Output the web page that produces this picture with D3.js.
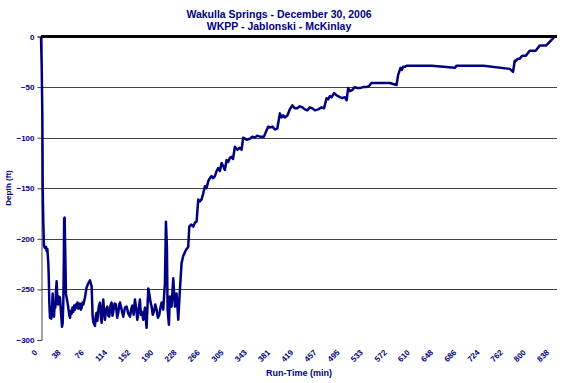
<!DOCTYPE html>
<html><head><meta charset="utf-8">
<script src="https://cdn.jsdelivr.net/npm/d3@7"></script>
<style>
body{margin:0;background:#fff}
svg{display:block}
text{font-family:"Liberation Sans",Arial,sans-serif;font-weight:bold;fill:#000080}
</style>
</head><body><svg width="562" height="383"></svg>
<script>
const titleLines = ["Wakulla Springs - December 30, 2006", "WKPP - Jablonski - McKinlay"];
const xTitle = "Run-Time (min)";
const yTitle = "Depth (ft)";
const xTickLabels = [0,38,76,114,152,190,228,266,305,343,381,419,457,495,533,572,610,648,686,724,762,800,838];
const yTicks = [0,-50,-100,-150,-200,-250,-300];
const runTime = [0,1.2,1.8,2.2,2.5,2.7,3.2,3.8,4.9,6.5,8.2,9.3,10.4,12.0,12.8,13.6,14.7,15.8,16.9,18.0,19.1,20.2,21.3,22.4,23.5,24.5,25.6,26.7,27.8,28.9,30.0,31.1,32.2,33.3,34.4,35.5,36.6,37.3,37.9,38.7,39.8,40.9,42.0,43.1,44.7,46.4,47.5,49.0,50.2,51.5,52.9,54.3,55.7,57.0,58.4,59.8,61.1,62.5,63.8,65.2,66.6,68.0,69.3,72.0,74.7,77.5,80.2,82.9,84.6,86.0,88.4,89.8,91.1,92.3,93.5,95.0,96.6,98.0,99.3,100.7,102.0,103.4,104.7,106.5,108.6,110.2,111.8,113.7,115.6,117.0,118.4,120.5,122.7,124.7,126.6,128.0,129.3,132.0,134.7,137.5,140.2,143.0,145.7,147.6,149.5,151.7,153.8,155.8,157.7,160.0,162.0,163.5,165.0,167.5,170.2,172.9,175.7,177.3,179.2,181.1,183.0,184.9,187.1,189.3,191.5,193.7,195.6,197.5,200.2,202.9,204.6,206.2,207.3,209.5,211.1,213.8,216.6,219.3,222.0,224.8,227.5,230.2,232.9,237.3,241.1,242.8,246.0,249.3,252.0,254.8,257.5,260.0,263.0,265.7,268.4,271.1,273.9,276.6,279.3,282.0,284.8,287.5,290.2,293.0,295.7,298.4,301.1,303.9,306.5,309.3,312.1,314.5,317.5,321.5,325.7,328.4,331.1,336.5,342.1,346.0,350.2,354.0,358.4,365.0,372.1,374.8,379.0,383.0,387.0,391.2,393.9,396.5,399.3,403.5,407.5,411.5,415.7,419.5,423.9,428.0,432.0,436.0,440.3,444.5,448.4,454.0,459.4,463.5,467.6,470.3,473.0,475.7,480.0,484.0,486.5,489.4,493.5,497.5,500.5,503.0,505.7,509.5,513.9,518.0,522.1,527.5,533.0,537.0,541.2,543.9,557.0,571.2,582.2,584.8,586.5,588.7,590.8,593.0,595.7,598.5,601.2,640.0,677.6,680.3,683.0,725.0,767.6,773.0,775.8,777.4,781.0,784.0,786.5,788.4,794.0,800.3,803.1,810.0,816.7,819.5,827.0,835.8,841.2,844.0];
const depth = [0,-31,-60,-78,-110,-142,-165,-184,-207,-209,-208,-212,-210,-224,-240,-263,-278,-272,-279,-268,-254,-270,-277,-265,-268,-252,-242,-258,-265,-257,-263,-258,-268,-278,-287,-283,-262,-230,-180,-179,-215,-255,-258,-262,-268,-276,-278,-271,-274,-268,-272,-266,-270,-265,-268,-263,-269,-266,-264,-270,-268,-263,-265,-258,-248,-244,-241,-247,-277,-283,-286,-276,-273,-281,-272,-266,-263,-277,-283,-270,-260,-272,-280,-270,-267,-276,-277,-266,-263,-276,-272,-264,-265,-278,-273,-266,-263,-270,-277,-268,-267,-274,-277,-270,-266,-275,-260,-268,-280,-270,-260,-275,-272,-280,-268,-288,-249,-254,-262,-267,-275,-272,-265,-270,-278,-275,-268,-263,-270,-244,-183,-208,-270,-285,-257,-267,-239,-267,-254,-280,-250,-224,-217,-211,-208,-188,-186,-188,-184,-183,-161,-163,-161,-155,-148,-150,-143,-140,-138,-140,-138,-133,-130,-133,-125,-128,-132,-122,-124,-120,-119,-121,-109,-112,-110,-112,-100,-102,-101,-99,-100,-98,-99,-99,-89,-90,-89,-92,-91,-76,-80,-78,-80,-78,-72,-68,-71,-71,-69,-70,-72,-73,-70,-71,-73,-72,-70,-71,-61,-62,-59,-60,-56,-58,-59,-60,-61,-60,-63,-51,-54,-53,-50,-51,-51,-50,-50,-49,-46,-46,-46,-46,-48,-38,-35,-31,-33,-30,-30,-29,-29,-29,-31,-29,-29,-29,-32,-35,-24,-24,-22,-22,-20,-19,-19,-14,-14,-14,-9,-9,-9,-3.5,0];

const svg = d3.select("svg");
const x = d3.scaleLinear().domain([0, 845]).range([41, 557]);
const y = d3.scaleLinear().domain([-300, 0]).range([340, 36.5]);
const navy = "#000080";

// title
svg.append("g").selectAll("text").data(titleLines).join("text")
  .attr("x", 279).attr("y", (d,i) => 17.5 + i*12)
  .attr("text-anchor","middle").attr("font-size", 10.5).text(d => d);

// gridlines
svg.append("g").selectAll("line").data(yTicks.filter(v => v > -300)).join("line")
  .attr("x1", x(0)).attr("x2", 557)
  .attr("y1", d => Math.round(y(d)) + 0.5).attr("y2", d => Math.round(y(d)) + 0.5)
  .attr("stroke", "#444").attr("stroke-width", 1);

// y axis
const yAxis = d3.axisLeft(y).tickValues(yTicks).tickSize(4).tickFormat(d3.format("d"));
const ga = svg.append("g").attr("transform", `translate(${Math.round(x(0))+0.5},0)`).call(yAxis);
ga.select(".domain").attr("stroke", "#444");
ga.selectAll(".tick line").attr("stroke", "#444");
ga.selectAll(".tick text").attr("font-size", 8).attr("fill", navy).attr("x", -7).style("font-family", '"Liberation Sans",Arial,sans-serif').style("font-weight","bold");

// data line
const line = d3.line().x((d,i) => x(runTime[i])).y((d,i) => y(depth[i]));
svg.append("path").datum(depth).attr("d", line)
  .attr("fill","none").attr("stroke", navy).attr("stroke-width", 2.5).attr("stroke-linejoin","round");

// top axis line at 0 (thick black)
svg.append("line").attr("x1", x(0)).attr("x2", 557).attr("y1", y(0)).attr("y2", y(0))
  .attr("stroke","#000").attr("stroke-width", 3);

// x tick labels rotated
svg.append("g").selectAll("text").data(xTickLabels).join("text")
  .attr("transform", d => `translate(${x(d) - 5},351) rotate(-45)`)
  .attr("text-anchor","end").attr("dy","0.35em").attr("font-size", 8).text(d => d);

// axis titles
svg.append("text").attr("x", 299).attr("y", 376).attr("text-anchor","middle").attr("font-size", 9).text(xTitle);
svg.append("text").attr("transform","translate(11,188) rotate(-90)").attr("text-anchor","middle").attr("font-size", 8).text(yTitle);
</script>
</body></html>
